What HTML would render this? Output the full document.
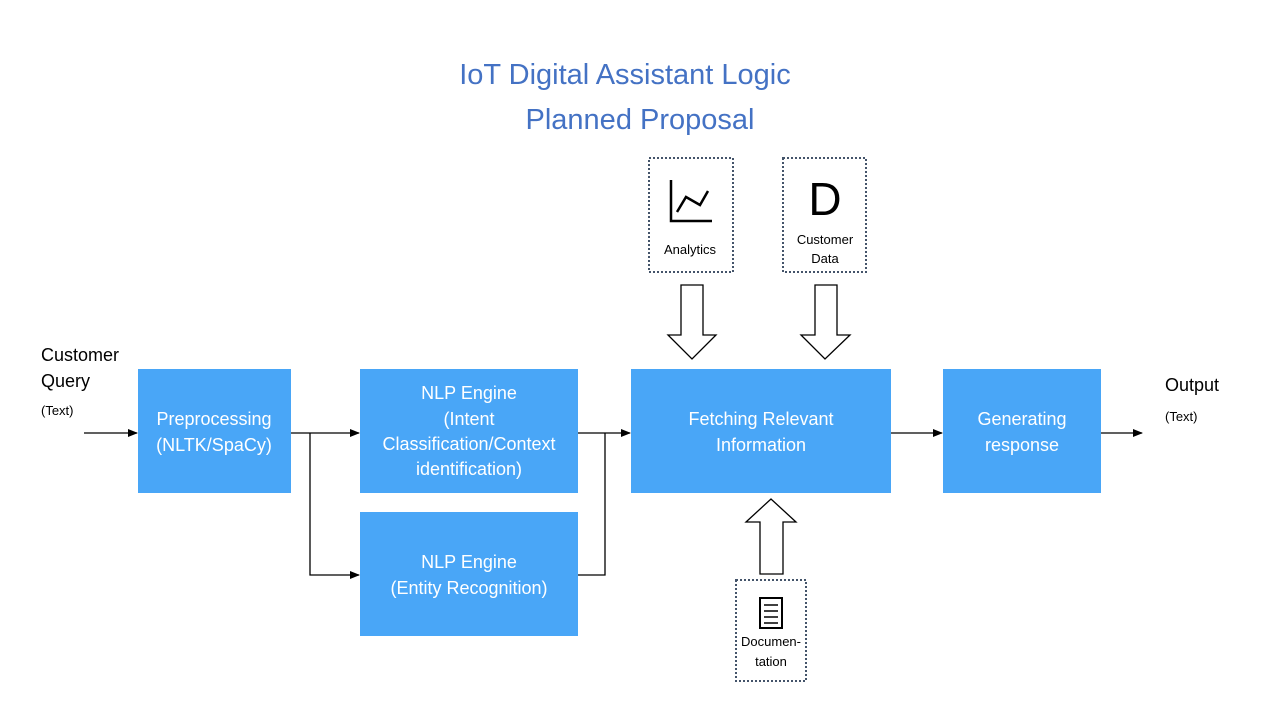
<!DOCTYPE html>
<html><head><meta charset="utf-8"><style>
html,body{margin:0;padding:0;background:#fff;}
svg{display:block;font-family:"Liberation Sans",sans-serif;}
</style></head><body>
<svg width="1280" height="720" viewBox="0 0 1280 720">
<defs><marker id="a" markerWidth="10" markerHeight="8" refX="9" refY="4" orient="auto" markerUnits="userSpaceOnUse"><path d="M0,0 L10,4 L0,8 Z" fill="#000"/></marker></defs>
<g fill="#4472C4" font-size="29" text-anchor="middle">
<text x="625" y="84">IoT Digital Assistant Logic</text>
<text x="640" y="129">Planned Proposal</text>
</g>
<g fill="#49A6F7">
<rect x="138" y="369" width="153" height="124"/>
<rect x="360" y="369" width="218" height="124"/>
<rect x="360" y="512" width="218" height="124"/>
<rect x="631" y="369" width="260" height="124"/>
<rect x="943" y="369" width="158" height="124"/>
</g>
<g fill="#fff" font-size="18" text-anchor="middle">
<text x="214" y="425">Preprocessing</text><text x="214" y="451">(NLTK/SpaCy)</text>
<text x="469" y="399">NLP Engine</text><text x="469" y="425">(Intent</text><text x="469" y="450">Classification/Context</text><text x="469" y="475">identification)</text>
<text x="469" y="568">NLP Engine</text><text x="469" y="594">(Entity Recognition)</text>
<text x="761" y="425">Fetching Relevant</text><text x="761" y="451">Information</text>
<text x="1022" y="425">Generating</text><text x="1022" y="451">response</text>
</g>
<g stroke="#000" stroke-width="1.3" fill="none">
<line x1="84" y1="433" x2="137" y2="433" marker-end="url(#a)"/>
<line x1="291" y1="433" x2="359" y2="433" marker-end="url(#a)"/>
<polyline points="310,433 310,575 359,575" marker-end="url(#a)"/>
<line x1="578" y1="433" x2="630" y2="433" marker-end="url(#a)"/>
<polyline points="578,575 605,575 605,433"/>
<line x1="891" y1="433" x2="942" y2="433" marker-end="url(#a)"/>
<line x1="1101" y1="433" x2="1142" y2="433" marker-end="url(#a)"/>
<polygon points="681,285 703,285 703,335 716,335 692,359 668,335 681,335" fill="#fff"/>
<polygon points="815,285 837,285 837,335 850,335 825,359 801,335 815,335" fill="#fff"/>
<polygon points="760,574 783,574 783,522 796,522 771,499 746,522 760,522" fill="#fff"/>
</g>
<g stroke="#44546A" stroke-width="2" stroke-dasharray="2,2" fill="none">
<rect x="649" y="158" width="84" height="114"/>
<rect x="783" y="158" width="83" height="114"/>
<rect x="736" y="580" width="70" height="101"/>
</g>
<g stroke="#000" stroke-width="2.5" fill="none">
<polyline points="671,180 671,221 712,221"/>
<polyline points="677,212 686,197 700,205 708,191"/>
</g>
<text x="825" y="215" font-size="46" text-anchor="middle">D</text>
<rect x="760" y="598" width="22" height="30" fill="none" stroke="#000" stroke-width="2"/>
<g stroke="#000" stroke-width="1.5"><line x1="764" y1="605" x2="778" y2="605"/><line x1="764" y1="611" x2="778" y2="611"/><line x1="764" y1="617" x2="778" y2="617"/><line x1="764" y1="623" x2="778" y2="623"/></g>
<g font-size="13" text-anchor="middle" fill="#000">
<text x="690" y="254">Analytics</text>
<text x="825" y="244">Customer</text><text x="825" y="263">Data</text>
<text x="771" y="646">Documen-</text><text x="771" y="666">tation</text>
</g>
<g fill="#000">
<text x="41" y="361" font-size="18">Customer</text><text x="41" y="387" font-size="18">Query</text>
<text x="41" y="415" font-size="13">(Text)</text>
<text x="1165" y="391" font-size="18">Output</text>
<text x="1165" y="421" font-size="13">(Text)</text>
</g>
</svg>
</body></html>
